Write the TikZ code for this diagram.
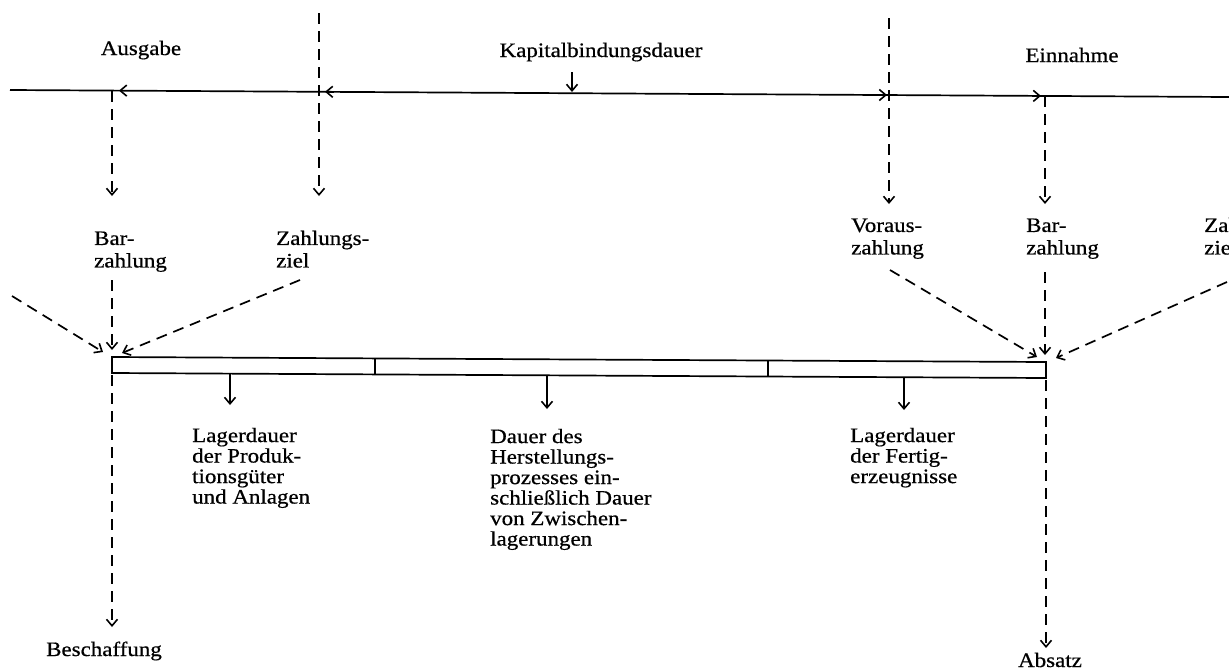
\documentclass[tikz,border=0pt]{standalone}
\usepackage{fontspec}
\setmainfont{Liberation Serif}[FakeStretch=1.12,FakeBold=0.6]
\usetikzlibrary{arrows.meta}
\newcommand\lblfont{\fontsize{20.5}{22.5}\selectfont}
\newcommand\blkfont{\fontsize{20.5}{20.5}\selectfont}
\tikzset{
  ln/.style={line width=1.7pt, line cap=butt},
  dsh/.style={ln, dash pattern=on 11pt off 7pt},
  tip/.style={-{Straight Barb[length=6.5pt,width=11pt,line width=1.6pt]}},
  lbl/.style={inner sep=0pt, align=left, anchor=north west, font=\lblfont},
  blk/.style={inner sep=0pt, align=left, anchor=north west, font=\blkfont},
  word/.style={inner sep=0pt, anchor=base, font=\lblfont},
}
\begin{document}
\begin{tikzpicture}[x=1pt,y=-1pt]
\useasboundingbox (0,0) rectangle (1229,670);
\clip (0,0) rectangle (1229,670);
\fill[white] (0,0) rectangle (1229,670);

% ---------- top labels ----------
\node[word] (ausgabe) at (141,55) {Ausgabe};
\node[word] (kapital) at (601,57) {Kapitalbindungsdauer};
\node[word] (einnahme) at (1072,62) {Einnahme};

% ---------- timeline ----------
\coordinate (tlL) at (10,90);
\coordinate (tlR) at (1229,97);
\draw[ln] (tlL) -- (tlR);
\coordinate (m1) at (119,90.6);
\coordinate (m2) at (325,91.8);
\coordinate (m3) at (887,95.0);
\coordinate (m4) at (1041,95.9);
\draw[ln,tip] ([xshift=9pt]m1) -- (m1);
\draw[ln,tip] ([xshift=9pt]m2) -- (m2);
\draw[ln,tip] ([xshift=-9pt]m3) -- (m3);
\draw[ln,tip] ([xshift=-9pt]m4) -- (m4);
\coordinate (kTop) at (572,72);
\coordinate (kTip) at (572,92);
\draw[ln,tip] (kTop) -- (kTip);

% ---------- vertical dashed lines from timeline ----------
\coordinate (vA1) at (112,91);   \coordinate (vA2) at (112,196);
\coordinate (vB1) at (319,13);   \coordinate (vB2) at (319,196);
\coordinate (vC1) at (889,18);   \coordinate (vC2) at (889,204);
\coordinate (vD1) at (1045,96);  \coordinate (vD2) at (1045,204);
\draw[dsh,tip] (vA1) -- (vA2);
\draw[dsh,tip] (vB1) -- (vB2);
\draw[dsh,tip] (vC1) -- (vC2);
\draw[dsh,tip] (vD1) -- (vD2);

% ---------- payment labels ----------
\node[lbl] (barL) at (94,229) {\strut Bar-\\zahlung};
\node[lbl] (zielL) at (276,229) {\strut Zahlungs-\\ziel};
\node[lbl] (voraus) at (851,216) {\strut Voraus-\\zahlung};
\node[lbl] (barR) at (1026,216) {\strut Bar-\\zahlung};
\node[lbl] (zielR) at (1204,216) {\strut Zahlungs-\\ziel};

% ---------- bar ----------
\coordinate (bTL) at (112,357);
\coordinate (bTR) at (1046,362);
\coordinate (bBR) at (1046,378);
\coordinate (bBL) at (112,373);
\draw[ln] (bTL) -- (bTR) -- (bBR) -- (bBL) -- cycle;
\coordinate (d1t) at (375,358.4); \coordinate (d1b) at (375,374.4);
\coordinate (d2t) at (768,360.5); \coordinate (d2b) at (768,376.5);
\draw[ln] (d1t) -- (d1b);
\draw[ln] (d2t) -- (d2b);

% ---------- arrows into the bar ----------
\coordinate (aL0) at (12,296);    \coordinate (aL1) at (103,352);
\coordinate (aB0) at (112,280);   \coordinate (aB1) at (112,350);
\coordinate (aZ0) at (300,280);   \coordinate (aZ1) at (122,353);
\draw[dsh,tip] (aL0) -- (aL1);
\draw[dsh,tip] (aB0) -- (aB1);
\draw[dsh,tip] (aZ0) -- (aZ1);
\coordinate (rV0) at (890,270);   \coordinate (rV1) at (1037,357);
\coordinate (rB0) at (1045,272);  \coordinate (rB1) at (1045,355);
\coordinate (rZ0) at (1227,282);  \coordinate (rZ1) at (1056,358);
\draw[dsh,tip] (rV0) -- (rV1);
\draw[dsh,tip] (rB0) -- (rB1);
\draw[dsh,tip] (rZ0) -- (rZ1);

% ---------- arrows out of the bar ----------
\coordinate (o1a) at (230,373.6); \coordinate (o1b) at (230,405);
\coordinate (o2a) at (547,375.3); \coordinate (o2b) at (547,409);
\coordinate (o3a) at (904,377.2); \coordinate (o3b) at (904,410);
\draw[ln,tip] (o1a) -- (o1b);
\draw[ln,tip] (o2a) -- (o2b);
\draw[ln,tip] (o3a) -- (o3b);

\node[blk] (lager1) at (192,427.5) {\strut Lagerdauer\\der Produk-\\tionsgüter\\und Anlagen};
\node[blk] (dauer) at (490,428.5) {\strut Dauer des\\Herstellungs-\\prozesses ein-\\schließlich Dauer\\von Zwischen-\\lagerungen};
\node[blk] (lager2) at (850,427.5) {\strut Lagerdauer\\der Fertig-\\erzeugnisse};

% ---------- down to Beschaffung / Absatz ----------
\coordinate (sL0) at (112,375);  \coordinate (sL1) at (112,627);
\coordinate (sR0) at (1046,380); \coordinate (sR1) at (1046,648);
\draw[dsh,tip] (sL0) -- (sL1);
\draw[dsh,tip] (sR0) -- (sR1);
\node[word] (beschaffung) at (104,656) {Beschaffung};
\node[word] (absatz) at (1050,667) {Absatz};
\end{tikzpicture}
\end{document}
